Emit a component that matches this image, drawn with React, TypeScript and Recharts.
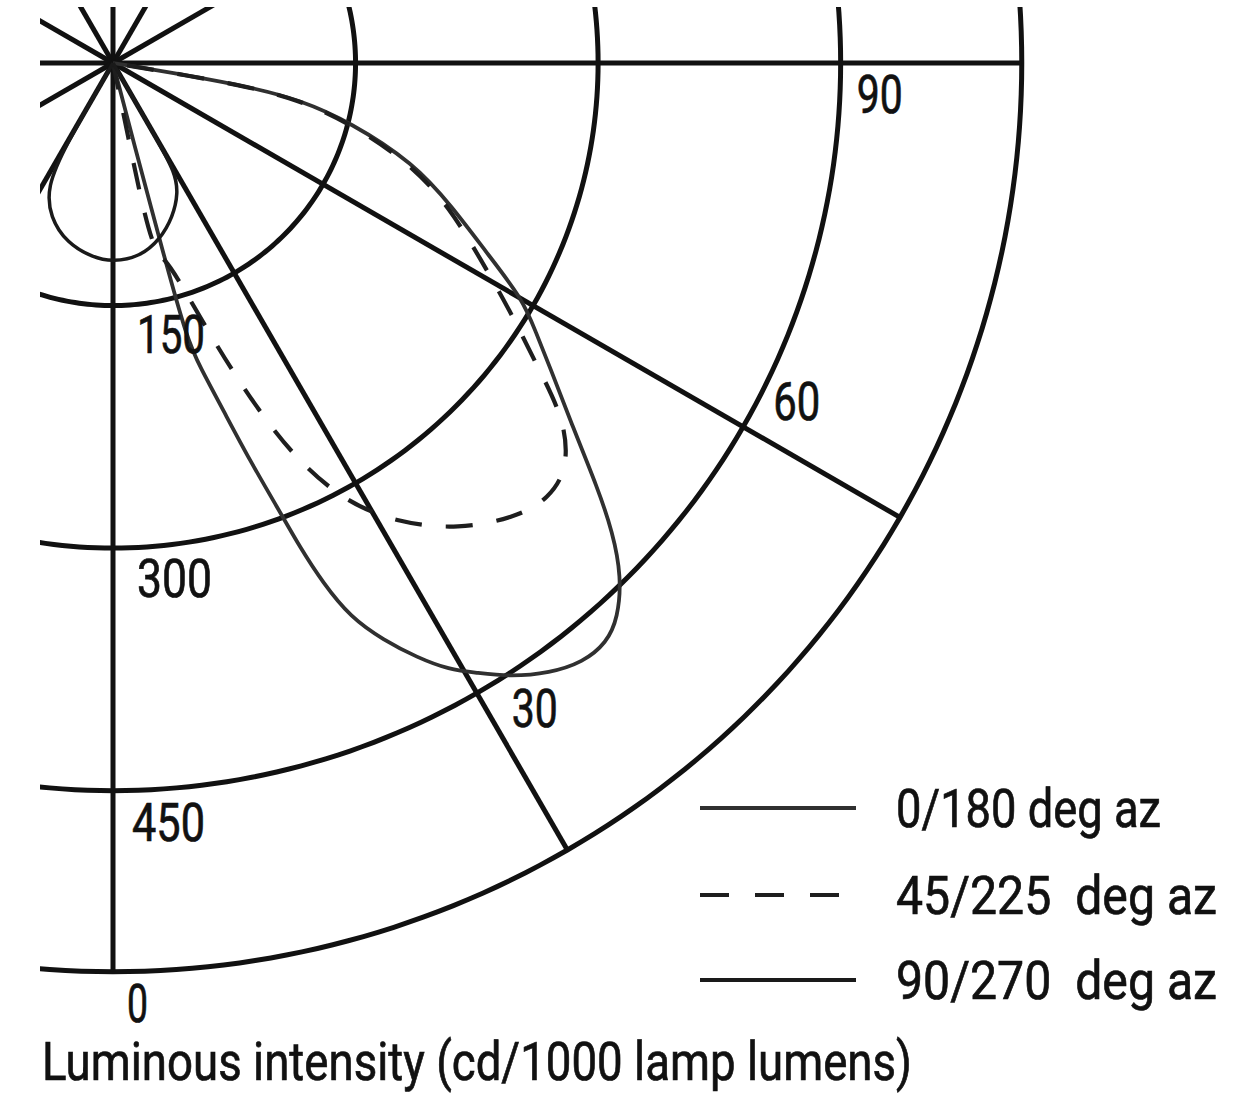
import React from 'react';
import { ComposedChart, Line, XAxis, YAxis, ReferenceDot, Legend } from 'recharts';

// ---------- data (angle in degrees from nadir, intensity in cd/1000 lm) ----------
const ringValues = [150, 300, 450, 562];
const ringLabels = ['150', '300', '450', '0'];
const radialAngles = [0, 30, 60, 90];
const angleLabels = ['30', '60', '90'];
const angleLabelAngles = [30, 60, 90];
const lampRayAngles = [120, 150, 180, 210, 240, 270, 300, 330];

const az0Angles = [14.5, 14.6, 14.8, 15, 16, 17.6, 19, 20.3, 21.1, 22, 23.2, 25.1, 27.1, 29, 30.8, 32.9, 35.6, 38.1, 40.4, 42.3, 44.7, 46.8, 48.8, 51.6, 55.2, 57.5, 60, 63.1, 67, 71.6, 76, 78.8, 80, 80.5, 81];
const az0Cd = [0, 50, 120, 177, 196, 225, 260, 293, 321, 347, 373, 394, 413, 429, 439, 452, 464, 471, 471, 464, 447, 424, 398, 363, 329, 310, 293, 259, 228, 196, 151, 118, 86, 50, 0];

const az45Angles = [11.5, 11.6, 11.6, 12.3, 14.4, 16.2, 20.1, 22.7, 24.9, 27.9, 31.7, 36.5, 41.7, 45, 48.3, 51.7, 54.4, 58.1, 62, 66.7, 71.4, 76, 78.8, 80, 80.5, 81];
const az45Cd = [0, 49, 86, 117, 125, 133, 187, 233, 271, 307, 334, 359, 376, 381, 377, 356, 323, 289, 257, 227, 194, 149, 116, 85, 48, 0];

const az90Angles = [-30, -30, -28, -22.2, -14.3, -5.9, 0, 7.9, 14.9, 21.3, 26.6, 29.5, 30, 30];
const az90Cd = [0, 60, 87, 103, 115, 121, 123, 121, 113, 102, 90, 78, 55, 0];

const legendNames = ['0/180 deg az', '45/225  deg az', '90/270  deg az'];
const axisTitle = 'Luminous intensity (cd/1000 lamp lumens)';

// ---------- layout ----------
const W = 1254;
const H = 1096;
const S = 1.617; // px per unit
const CX = 113;
const CY = 63;
const PLOT_LEFT = 40;
const PLOT_TOP = 7;
const X_DOMAIN: [number, number] = [(PLOT_LEFT - CX) / S, (W - CX) / S];
const Y_DOMAIN: [number, number] = [-(H - CY) / S, (CY - PLOT_TOP) / S];

const FONT = 'Roboto, "Liberation Sans", "DejaVu Sans", sans-serif';
const FONT_SIZE = 53;
const INK = '#111';
const GRID_W = 5;

const seriesStyles = [
  { color: '#303030', width: 3.8, dash: undefined as string | undefined },
  { color: '#1e1e1e', width: 4.2, dash: '27 24' },
  { color: '#1a1a1a', width: 3.5, dash: undefined as string | undefined },
];

// label offsets (px) from their polar anchors, and text widths
const ringLabelStyle = [
  { dx: 24, dy: 47, w: 68 },
  { dx: 24, dy: 49, w: 75 },
  { dx: 19, dy: 50, w: 73 },
  { dx: 14, dy: 50, w: 21 },
];
const angleLabelStyle = [
  { dx: 35, dy: 34, w: 46 },
  { dx: 30, dy: -7, w: 47 },
  { dx: 16, dy: 50, w: 46 },
];
const titleStyle = { dx: -71, dy: 108, w: 870 };

// ---------- helpers ----------
const toXY = (angleDeg: number, r: number) => {
  const t = (angleDeg * Math.PI) / 180;
  return { x: r * Math.sin(t), y: -r * Math.cos(t) };
};
const polarSeries = (angles: number[], cd: number[]) => angles.map((a, i) => toXY(a, cd[i]));

const ringArc = (r: number) => {
  const pts: { x: number; y: number }[] = [];
  for (let a = -40; a <= 125; a += 1) pts.push(toXY(a, r));
  return pts;
};

const series = [
  polarSeries(az0Angles, az0Cd),
  polarSeries(az45Angles, az45Cd),
  polarSeries(az90Angles, az90Cd),
];

const outer = ringValues[ringValues.length - 1];

const textProps = (w: number) => ({
  textLength: w,
  lengthAdjust: 'spacingAndGlyphs' as const,
  fontFamily: FONT,
  fontSize: FONT_SIZE,
  fill: INK,
  stroke: INK,
  strokeWidth: 0.7,
  style: { whiteSpace: 'pre' as const },
});

const makeTextShape = (text: string, dx: number, dy: number, w: number) => (props: any) => (
  <text x={props.cx + dx} y={props.cy + dy} {...textProps(w)}>
    {text}
  </text>
);

const LegendBox = () => {
  const ox = 690;
  const oy = 770;
  const rowsY = [808, 895, 980];
  return (
    <svg width={564} height={260} style={{ overflow: 'visible', display: 'block' }}>
      {legendNames.map((name, i) => (
        <g key={name}>
          <line
            x1={700 - ox}
            x2={856 - ox}
            y1={rowsY[i] - oy}
            y2={rowsY[i] - oy}
            stroke={seriesStyles[i].color}
            strokeWidth={4.2}
            strokeDasharray={i === 1 ? '29 26' : undefined}
          />
          <text x={896 - ox} y={rowsY[i] - oy + 19} {...textProps(i === 0 ? 265 : 321)}>
            {name}
          </text>
        </g>
      ))}
    </svg>
  );
};

export default function App() {
  return (
    <div style={{ position: 'absolute', left: 0, top: 0, width: W, height: H, background: '#fff' }}>
      <ComposedChart width={W} height={H} margin={{ top: PLOT_TOP, right: 0, bottom: 0, left: PLOT_LEFT }}>
        <XAxis type="number" dataKey="x" domain={X_DOMAIN} allowDataOverflow hide />
        <YAxis type="number" dataKey="y" domain={Y_DOMAIN} allowDataOverflow hide />

        {ringValues.map((r) => (
          <Line
            key={`ring-${r}`}
            data={ringArc(r)}
            dataKey="y"
            type="linear"
            stroke={INK}
            strokeWidth={GRID_W}
            dot={false}
            activeDot={false}
            isAnimationActive={false}
            legendType="none"
          />
        ))}
        {radialAngles.map((a) => (
          <Line
            key={`radial-${a}`}
            data={[{ x: 0, y: 0 }, toXY(a, outer)]}
            dataKey="y"
            type="linear"
            stroke={INK}
            strokeWidth={GRID_W}
            dot={false}
            activeDot={false}
            isAnimationActive={false}
            legendType="none"
          />
        ))}
        {lampRayAngles.map((a) => (
          <Line
            key={`ray-${a}`}
            data={[{ x: 0, y: 0 }, toXY(a, 250)]}
            dataKey="y"
            type="linear"
            stroke={INK}
            strokeWidth={GRID_W}
            dot={false}
            activeDot={false}
            isAnimationActive={false}
            legendType="none"
          />
        ))}

        {series.map((pts, i) => (
          <Line
            key={`series-${i}`}
            name={legendNames[i]}
            data={pts}
            dataKey="y"
            type="basis"
            stroke={seriesStyles[i].color}
            strokeWidth={seriesStyles[i].width}
            strokeDasharray={seriesStyles[i].dash}
            fill="none"
            dot={false}
            activeDot={false}
            isAnimationActive={false}
          />
        ))}

        {ringValues.map((r, i) => {
          const p = toXY(0, r);
          const st = ringLabelStyle[i];
          return (
            <ReferenceDot
              key={`rl-${i}`}
              x={p.x}
              y={p.y}
              r={0}
              ifOverflow="visible"
              shape={makeTextShape(ringLabels[i], st.dx, st.dy, st.w)}
            />
          );
        })}
        {angleLabelAngles.map((a, i) => {
          const p = toXY(a, ringValues[2]);
          const st = angleLabelStyle[i];
          return (
            <ReferenceDot
              key={`al-${i}`}
              x={p.x}
              y={p.y}
              r={0}
              ifOverflow="visible"
              shape={makeTextShape(angleLabels[i], st.dx, st.dy, st.w)}
            />
          );
        })}
        <ReferenceDot
          x={0}
          y={-outer}
          r={0}
          ifOverflow="visible"
          shape={makeTextShape(axisTitle, titleStyle.dx, titleStyle.dy, titleStyle.w)}
        />

        <Legend
          layout="horizontal"
          verticalAlign="middle"
          align="center"
          wrapperStyle={{ left: 690, top: 770, width: 564, height: 260 }}
          content={() => <LegendBox />}
        />
      </ComposedChart>
    </div>
  );
}
